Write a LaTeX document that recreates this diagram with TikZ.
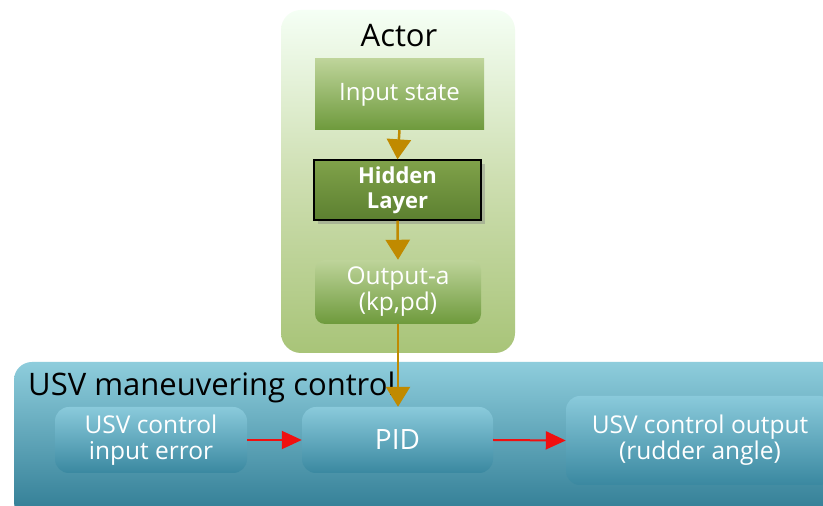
\documentclass[tikz,border=0pt]{standalone}
\usepackage{fontspec}
\setmainfont{Open Sans}
\usetikzlibrary{arrows.meta,shadows}
\definecolor{gold}{HTML}{C08A00}
\definecolor{redarr}{HTML}{F01010}
\tikzset{
  panelA/.style={rounded corners=20pt, top color=green!4!white, bottom color={rgb,255:red,168;green,196;blue,120}, middle color={rgb,255:red,205;green,222;blue,176}},
  greenbox/.style={minimum width=#1, inner sep=0pt, top color={rgb,255:red,190;green,212;blue,154}, bottom color={rgb,255:red,110;green,154;blue,60}, text=white, align=center, font=\fontsize{24}{26}\selectfont},
  hiddenbox/.style={minimum width=167pt, minimum height=60pt, inner sep=0pt, top color={rgb,255:red,128;green,162;blue,74}, bottom color={rgb,255:red,92;green,128;blue,48}, draw=black, line width=1.3pt, text=white, align=center, font=\bfseries\fontsize{22}{25}\selectfont, drop shadow={shadow xshift=4pt, shadow yshift=-4pt, opacity=0.4}},
  panelB/.style={rounded corners=18pt, top color={rgb,255:red,142;green,205;blue,220}, bottom color={rgb,255:red,46;green,122;blue,146}},
  tealbox/.style={rounded corners=14pt, inner sep=0pt, top color={rgb,255:red,138;green,202;blue,219}, bottom color={rgb,255:red,58;green,136;blue,160}, text=white, align=center, font=\fontsize{24.5}{26}\selectfont},
  goldarrow/.style={draw=gold, line width=2.5pt, -{Triangle[width=24pt,length=20pt]}},
  redarrow/.style={draw=redarr, line width=2pt, -{Triangle[width=18pt,length=20pt]}},
}
\begin{document}
\begin{tikzpicture}[x=1pt,y=1pt]
\clip (0,0) rectangle (823,506);
\fill[white] (0,0) rectangle (823,506);
% Actor panel
\node[panelA, minimum width=234pt, minimum height=343pt] (actor) at (398,324.5) {};
\node[font=\fontsize{31}{34}\selectfont] (actortitle) at (399,470) {Actor};
\node[greenbox=169pt, minimum height=71pt] (input) at (399.5,411.5) {Input state};
\node[hiddenbox] (hidden) at (397.5,316) {Hidden\\Layer};
\node[greenbox=166pt, minimum height=64pt, rounded corners=10pt, font=\fontsize{24.5}{26}\selectfont] (out) at (398,214) {Output-a\\(kp,pd)};
\draw[goldarrow] (input.south) -- (hidden.north);
\draw[goldarrow] (hidden.south) -- (out.north);
% USV panel
\node[panelB, minimum width=826pt, minimum height=158pt] (usv) at (427,65) {};
\node[anchor=west, font=\fontsize{31}{34}\selectfont, inner sep=0pt] (usvtitle) at (28,119) {USV maneuvering control};
\node[tealbox, minimum width=192pt, minimum height=66pt] (err) at (151,66) {USV control\\input error};
\node[tealbox, minimum width=191pt, minimum height=66pt, font=\fontsize{28}{30}\selectfont] (pid) at (397.5,66) {PID};
\node[tealbox, minimum width=268pt, minimum height=89pt] (uout) at (700,65.5) {USV control output\\(rudder angle)};
\draw[goldarrow] (out.south) -- (out.south |- pid.north);
\draw[redarrow] (err.east) -- (pid.west);
\draw[redarrow] (pid.east) -- (uout.west);
\end{tikzpicture}
\end{document}
